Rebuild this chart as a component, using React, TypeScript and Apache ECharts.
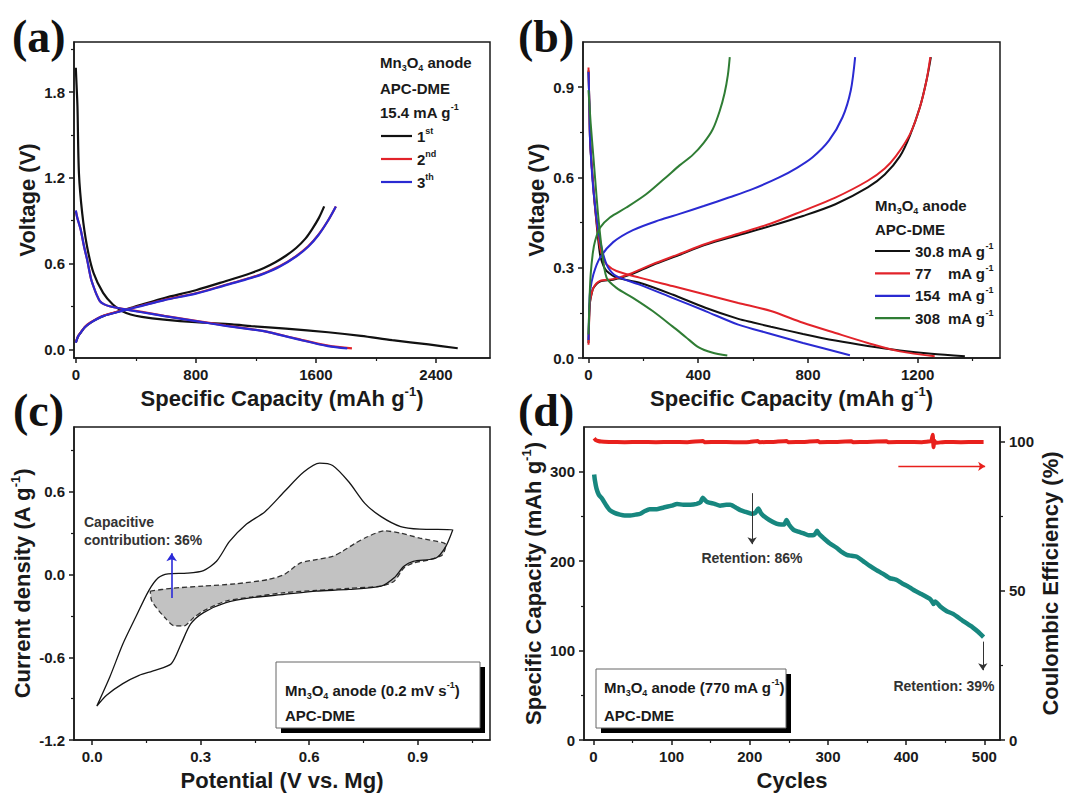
import React, { useEffect, useRef } from 'react';
import * as echarts from 'echarts';

// ---------------- Panel (a): Mn3O4, APC-DME, 15.4 mA g-1 ----------------
const a1Discharge = [[0, 1.97], [5, 1.85], [11, 1.7], [21, 1.23], [43, 0.95], [75, 0.72], [118, 0.535], [182, 0.395], [247, 0.314], [311, 0.267], [365, 0.244], [440, 0.228], [590, 0.209], [800, 0.19], [1041, 0.175], [1169, 0.163], [1400, 0.145], [1681, 0.12], [1900, 0.095], [2108, 0.065], [2350, 0.035], [2545, 0.008]];
const a1Charge = [[0, 0.047], [15, 0.09], [32, 0.116], [60, 0.155], [97, 0.186], [140, 0.212], [182, 0.233], [250, 0.255], [311, 0.274], [380, 0.295], [440, 0.314], [590, 0.36], [800, 0.414], [997, 0.477], [1169, 0.535], [1254, 0.57], [1330, 0.61], [1400, 0.655], [1468, 0.709], [1530, 0.775], [1574, 0.84], [1620, 0.92], [1655, 1.0]];
const a2Discharge = [[0, 0.97], [10, 0.92], [32, 0.84], [55, 0.72], [75, 0.63], [100, 0.5], [118, 0.44], [140, 0.38], [161, 0.337], [190, 0.315], [225, 0.302], [311, 0.284], [440, 0.262], [590, 0.235], [800, 0.2], [1000, 0.167], [1169, 0.142], [1254, 0.128], [1468, 0.076], [1681, 0.026], [1840, 0.007]];
const a2Charge = [[0, 0.05], [15, 0.092], [32, 0.118], [60, 0.157], [97, 0.188], [182, 0.235], [311, 0.272], [440, 0.307], [590, 0.347], [800, 0.393], [1000, 0.452], [1169, 0.503], [1254, 0.533], [1360, 0.583], [1468, 0.653], [1550, 0.723], [1617, 0.803], [1680, 0.9], [1733, 1.0]];
const a3Discharge = [[0, 0.972], [10, 0.92], [32, 0.84], [55, 0.72], [75, 0.63], [100, 0.5], [118, 0.44], [140, 0.38], [161, 0.337], [190, 0.315], [225, 0.302], [311, 0.284], [440, 0.26], [590, 0.233], [800, 0.198], [1000, 0.165], [1169, 0.14], [1254, 0.128], [1468, 0.074], [1681, 0.023], [1809, 0.007]];
const a3Charge = [[0, 0.047], [15, 0.09], [32, 0.116], [60, 0.155], [97, 0.186], [182, 0.233], [311, 0.27], [440, 0.305], [590, 0.345], [800, 0.39], [1000, 0.45], [1169, 0.5], [1254, 0.53], [1360, 0.58], [1468, 0.65], [1550, 0.72], [1617, 0.8], [1680, 0.9], [1733, 1.0]];
const aXTicks = [0, 800, 1600, 2400];
const aXMinor = [400, 1200, 2000];
const aYTicks = [0, 0.6, 1.2, 1.8];
const aYMinor = [0.3, 0.9, 1.5, 2.1];
const aLegendNames = ['1st', '2nd', '3th'];

// ---------------- Panel (b): rate capability ----------------
const b30Discharge = [[0, 0.955], [3, 0.85], [6, 0.72], [15, 0.6], [24, 0.5], [42, 0.344], [55, 0.305], [66, 0.289], [102, 0.267], [186, 0.25], [306, 0.211], [426, 0.167], [546, 0.13], [600, 0.118], [665, 0.104], [782, 0.08], [900, 0.058], [1018, 0.04], [1135, 0.025], [1250, 0.014], [1372, 0.006]];
const b30Charge = [[0, 0.05], [3, 0.15], [6, 0.189], [12, 0.215], [18, 0.233], [42, 0.254], [90, 0.26], [150, 0.276], [234, 0.309], [330, 0.342], [426, 0.376], [546, 0.408], [665, 0.439], [782, 0.472], [900, 0.511], [1018, 0.567], [1080, 0.61], [1135, 0.67], [1172, 0.74], [1208, 0.833], [1232, 0.922], [1248, 1.0]];
const b77Discharge = [[0, 0.965], [3, 0.85], [6, 0.72], [15, 0.6], [24, 0.5], [42, 0.367], [55, 0.33], [66, 0.311], [102, 0.289], [186, 0.267], [306, 0.239], [426, 0.211], [546, 0.183], [665, 0.156], [782, 0.117], [900, 0.083], [1018, 0.05], [1135, 0.022], [1262, 0.006]];
const b77Charge = [[0, 0.044], [3, 0.14], [6, 0.189], [18, 0.233], [42, 0.256], [90, 0.262], [150, 0.279], [234, 0.312], [330, 0.345], [426, 0.379], [546, 0.413], [665, 0.447], [782, 0.489], [900, 0.533], [1018, 0.589], [1080, 0.63], [1120, 0.67], [1172, 0.744], [1208, 0.833], [1232, 0.922], [1246, 1.0]];
const b154Discharge = [[0, 0.95], [3, 0.85], [6, 0.72], [18, 0.556], [36, 0.422], [54, 0.344], [72, 0.3], [102, 0.272], [186, 0.244], [306, 0.2], [426, 0.156], [546, 0.111], [665, 0.08], [782, 0.05], [953, 0.009]];
const b154Charge = [[0, 0.06], [3, 0.17], [6, 0.222], [18, 0.278], [42, 0.333], [90, 0.385], [162, 0.425], [258, 0.458], [332, 0.479], [420, 0.505], [514, 0.534], [600, 0.562], [695, 0.6], [760, 0.632], [817, 0.667], [877, 0.723], [926, 0.8], [956, 0.889], [972, 1.0]];
const b308Discharge = [[0, 0.89], [8, 0.78], [18, 0.667], [30, 0.53], [36, 0.467], [48, 0.367], [66, 0.267], [102, 0.233], [162, 0.2], [234, 0.156], [306, 0.105], [354, 0.07], [402, 0.035], [450, 0.018], [506, 0.008]];
const b308Charge = [[0, 0.078], [4, 0.2], [8, 0.278], [16, 0.35], [24, 0.389], [42, 0.433], [78, 0.467], [138, 0.5], [210, 0.544], [282, 0.6], [332, 0.64], [380, 0.675], [420, 0.715], [453, 0.76], [478, 0.82], [496, 0.88], [508, 0.94], [515, 1.0]];
const bXTicks = [0, 400, 800, 1200];
const bXMinor = [200, 600, 1000, 1400];
const bYTicks = [0, 0.3, 0.6, 0.9];
const bYMinor = [0.15, 0.45, 0.75];
const bLegendNames = ['30.8 mA g-1', '77 mA g-1', '154 mA g-1', '308 mA g-1'];

// ---------------- Panel (c): CV at 0.2 mV s-1 ----------------
const cvLoop = [[0.013, -0.954], [0.049, -0.743], [0.085, -0.504], [0.12, -0.312], [0.156, -0.12], [0.183, -0.024], [0.21, 0.005], [0.263, 0.01], [0.308, 0.029], [0.344, 0.096], [0.38, 0.24], [0.424, 0.36], [0.478, 0.456], [0.531, 0.6], [0.585, 0.743], [0.629, 0.808], [0.665, 0.791], [0.71, 0.671], [0.754, 0.516], [0.799, 0.42], [0.853, 0.348], [0.906, 0.329], [0.997, 0.324], [0.978, 0.204], [0.951, 0.12], [0.888, 0.096], [0.862, 0.06], [0.835, -0.024], [0.799, -0.084], [0.71, -0.108], [0.62, -0.12], [0.531, -0.144], [0.442, -0.168], [0.37, -0.204], [0.308, -0.276], [0.272, -0.36], [0.246, -0.504], [0.219, -0.647], [0.174, -0.695], [0.13, -0.731], [0.085, -0.791], [0.04, -0.875], [0.013, -0.954]];
const capUpper = [[0.161, -0.12], [0.219, -0.1], [0.308, -0.084], [0.397, -0.067], [0.487, -0.036], [0.531, 0], [0.576, 0.084], [0.62, 0.108], [0.665, 0.132], [0.692, 0.168], [0.728, 0.228], [0.763, 0.276], [0.808, 0.317], [0.853, 0.3], [0.906, 0.264], [0.978, 0.216]];
const capLower = [[0.969, 0.144], [0.933, 0.108], [0.888, 0.084], [0.862, 0.048], [0.835, -0.048], [0.799, -0.084], [0.71, -0.1], [0.62, -0.115], [0.531, -0.132], [0.442, -0.163], [0.37, -0.192], [0.308, -0.264], [0.281, -0.312], [0.254, -0.372], [0.228, -0.372], [0.201, -0.312], [0.165, -0.192], [0.161, -0.12]];
const capArrow = [[0.22, -0.17], [0.22, 0.155]];
const cXTicks = [0, 0.3, 0.6, 0.9];
const cXMinor = [0.15, 0.45, 0.75, 1.05];
const cYTicks = [-1.2, -0.6, 0, 0.6];
const cYMinor = [-0.9, -0.3, 0.3, 0.9];

// ---------------- Panel (d): cycling at 770 mA g-1 ----------------
const dCapacity = [[1, 297], [2, 290], [4, 281], [7, 274], [11, 270], [16, 263], [21, 257], [27, 254], [34, 252], [40, 251], [47, 251], [54, 252], [60, 253], [66, 256], [72, 258], [80, 258], [90, 260], [100, 262], [107, 264], [115, 263], [124, 263], [132, 264], [137, 266], [140, 271], [143, 268], [146, 266], [155, 264], [162, 262], [170, 263], [175, 263], [182, 260], [188, 257], [195, 255], [202, 253], [207, 254], [211, 259], [214, 254], [217, 251], [225, 246], [234, 242], [240, 241], [244, 241], [247, 246], [250, 241], [256, 235], [262, 233], [269, 231], [275, 229], [281, 229], [284, 231], [286, 234], [289, 230], [294, 226], [302, 220], [311, 215], [318, 210], [324, 207], [330, 206], [337, 205], [345, 200], [353, 195], [362, 190], [370, 186], [379, 181], [384, 180], [388, 179], [395, 175], [402, 172], [409, 168], [420, 163], [430, 158], [433, 155], [435, 152], [437, 155], [444, 149], [452, 144], [460, 141], [473, 133], [485, 126], [492, 121], [499, 115]];
const dEfficiency = [[1, 101.2], [3, 100.6], [6, 100.3], [10, 100.1], [20, 100], [40, 99.9], [60, 100], [80, 99.9], [100, 100], [120, 99.9], [140, 100.3], [142, 99.9], [160, 100], [180, 99.9], [200, 100], [210, 100.3], [212, 99.9], [230, 100], [247, 100.3], [249, 99.9], [270, 100], [287, 100.3], [289, 99.9], [310, 100], [330, 100.2], [332, 99.9], [350, 100], [375, 100.2], [377, 99.9], [400, 100], [420, 99.9], [432, 100.3], [434, 102.4], [435, 98.2], [436, 100.4], [438, 99.7], [450, 100], [470, 99.9], [490, 100], [499, 100]];
const ret86Arrow = [[203, 276], [203, 219]];
const ret39Arrow = [[498, 110], [498, 78]];
const ceArrow = [[390, 91.8], [501, 91.8]];
const dXTicks = [0, 100, 200, 300, 400, 500];
const dXMinor = [50, 150, 250, 350, 450];
const dYTicks = [0, 100, 200, 300];
const dYMinor = [50, 150, 250];
const dY2Ticks = [0, 50, 100];
const dY2Minor = [25, 75];

// ---------------- styling ----------------
const FONT = '"Liberation Sans", Arial, Helvetica, sans-serif';
const SERIF = '"Liberation Serif", "Times New Roman", serif';
const TXT = '#1a1a1a';
const BLACK = '#111111';
const RED = '#e2232a';
const BLUE = '#2a2ad2';
const GREEN = '#2f7d34';
const TEAL = '#17877f';
const CERED = '#e8201c';

const supSub = (size: number) => ({
  sub: { fontFamily: FONT, fontWeight: 'bold', fontSize: Math.round(size * 0.6), color: TXT, fill: TXT, verticalAlign: 'bottom', lineHeight: Math.round(size * 0.6) },
  sup: { fontFamily: FONT, fontWeight: 'bold', fontSize: Math.round(size * 0.6), color: TXT, fill: TXT, verticalAlign: 'top', lineHeight: Math.round(size * 0.6) },
  n: { fontFamily: FONT, fontWeight: 'bold', fontSize: size, color: TXT, fill: TXT, width: 33 },
});

const NAME_STYLE = { fontFamily: FONT, fontSize: 22, fontWeight: 'bold', color: TXT, lineHeight: 26, rich: supSub(22) };

const fix1 = (v: number) => (Math.abs(v) < 1e-9 ? '0.0' : v.toFixed(1));
const int = (v: number) => String(Math.round(v));

function major(dim: string, gridIndex: number, min: number, max: number, ticks: number[], fmt: any, name: string, nameGap: number, position: string) {
  const a: any = {
    type: 'value', gridIndex, min, max, position,
    axisLine: { show: true, onZero: false, lineStyle: { color: TXT, width: 1.5 } },
    axisTick: { show: true, inside: false, length: 5, customValues: ticks, lineStyle: { color: TXT, width: 1.5 } },
    axisLabel: { show: true, customValues: ticks, formatter: fmt, margin: 9, fontFamily: FONT, fontSize: 15, fontWeight: 'bold', color: TXT },
    splitLine: { show: false },
    minorTick: { show: false },
    name, nameLocation: 'middle', nameGap, nameTextStyle: NAME_STYLE,
  };
  if (dim === 'y') a.nameRotate = 90;
  return a;
}
function minor(gridIndex: number, min: number, max: number, ticks: number[], position: string) {
  return {
    type: 'value', gridIndex, min, max, position,
    axisLine: { show: false, onZero: false },
    axisTick: { show: true, inside: false, length: 3, customValues: ticks, lineStyle: { color: TXT, width: 1.2 } },
    axisLabel: { show: false },
    splitLine: { show: false },
  };
}

const line = (name: string, data: number[][], color: string, width: number, xi: number, yi: number, extra: any = {}) => ({
  name, type: 'line', data, xAxisIndex: xi, yAxisIndex: yi, symbol: 'none', showSymbol: false, smooth: 0.3,
  lineStyle: { color, width }, itemStyle: { color }, emphasis: { disabled: true }, silent: true, ...extra,
});

const arrowMark = (pairs: number[][][], color: string, width: number, size: number) => ({
  silent: true, symbol: ['none', 'arrow'], symbolSize: size, label: { show: false },
  lineStyle: { color, width, type: 'solid' }, emphasis: { disabled: true },
  data: pairs.map((p) => [{ coord: p[0] }, { coord: p[1] }]),
});

const txt = (x: number, y: number, text: string, size: number, extra: any = {}) => ({
  type: 'text', x, y, silent: true,
  style: { text, fontFamily: FONT, fontWeight: 'bold', fontSize: size, fill: TXT, verticalAlign: 'middle', align: 'left', lineHeight: 20, rich: supSub(size), ...extra },
});
const panelLabel = (x: number, y: number, t: string) => ({
  type: 'text', x, y, silent: true,
  style: { text: t, fontFamily: SERIF, fontWeight: 'bold', fontSize: 46, fill: '#111', verticalAlign: 'middle', align: 'left' },
});

function buildOption() {
  const capLoop = capUpper.concat(capLower);
  const gridBase = { show: true, borderColor: TXT, borderWidth: 1.5, backgroundColor: 'transparent' };
  const legendText = { fontFamily: FONT, fontSize: 15, fontWeight: 'bold', color: TXT, lineHeight: 20, rich: supSub(15) };
  return {
    animation: false,
    backgroundColor: '#ffffff',
    textStyle: { fontFamily: FONT },
    grid: [
      { ...gridBase, left: 74, top: 42, width: 416, height: 316 },
      { ...gridBase, left: 583, top: 42, width: 417, height: 316 },
      { ...gridBase, left: 74, top: 427, width: 416, height: 316 },
      { ...gridBase, left: 584, top: 427, width: 416, height: 316 },
    ],
    xAxis: [
      major('x', 0, -12, 2760, aXTicks, int, 'Specific Capacity (mAh g{sup|-1})', 27, 'bottom'),
      major('x', 1, -20, 1500, bXTicks, int, 'Specific Capacity (mAh g{sup|-1})', 27, 'bottom'),
      major('x', 2, -0.05, 1.1, cXTicks, fix1, 'Potential (V vs. Mg)', 27, 'bottom'),
      major('x', 3, -12, 520, dXTicks, int, 'Cycles', 27, 'bottom'),
      minor(0, -12, 2760, aXMinor, 'bottom'),
      minor(1, -20, 1500, bXMinor, 'bottom'),
      minor(2, -0.05, 1.1, cXMinor, 'bottom'),
      minor(3, -12, 520, dXMinor, 'bottom'),
    ],
    yAxis: [
      major('y', 0, -0.06, 2.15, aYTicks, fix1, 'Voltage (V)', 31, 'left'),
      major('y', 1, 0, 1.05, bYTicks, fix1, 'Voltage (V)', 31, 'left'),
      major('y', 2, -1.2, 1.07, cYTicks, fix1, 'Current density (A g{sup|-1})', 31, 'left'),
      major('y', 3, 0, 350, dYTicks, int, 'Specific Capacity (mAh g{sup|-1})', 33, 'left'),
      major('y', 3, 0, 105, dY2Ticks, int, 'Coulombic Efficiency (%)', 28, 'right'),
      minor(0, -0.06, 2.15, aYMinor, 'left'),
      minor(1, 0, 1.05, bYMinor, 'left'),
      minor(2, -1.2, 1.07, cYMinor, 'left'),
      minor(3, 0, 350, dYMinor, 'left'),
      minor(3, 0, 105, dY2Minor, 'right'),
    ],
    legend: [
      {
        data: aLegendNames, orient: 'vertical', left: 381, top: 126, padding: 0, itemGap: 3,
        icon: 'rect', itemWidth: 31, itemHeight: 2.2, selectedMode: false,
        formatter: (n: string) => `${n.slice(0, 1)}{sup|${n.slice(1)}}`,
        textStyle: legendText,
      },
      {
        data: bLegendNames, orient: 'vertical', left: 875, top: 241, padding: 0, itemGap: 2.4,
        icon: 'rect', itemWidth: 35, itemHeight: 2.2, selectedMode: false,
        formatter: (n: string) => `{n|${n.split(' ')[0]}}mA g{sup|-1}`,
        textStyle: legendText,
      },
    ],
    series: [
      // (a)
      line('1st', a1Discharge, BLACK, 2.2, 0, 0),
      line('1st', a1Charge, BLACK, 2.2, 0, 0),
      line('2nd', a2Discharge, RED, 2.2, 0, 0),
      line('2nd', a2Charge, RED, 2.2, 0, 0),
      line('3th', a3Discharge, BLUE, 2.2, 0, 0),
      line('3th', a3Charge, BLUE, 2.2, 0, 0),
      // (b)
      line(bLegendNames[0], b30Discharge, BLACK, 2, 1, 1),
      line(bLegendNames[0], b30Charge, BLACK, 2, 1, 1),
      line(bLegendNames[1], b77Discharge, RED, 2, 1, 1),
      line(bLegendNames[1], b77Charge, RED, 2, 1, 1),
      line(bLegendNames[2], b154Discharge, BLUE, 2, 1, 1),
      line(bLegendNames[2], b154Charge, BLUE, 2, 1, 1),
      line(bLegendNames[3], b308Discharge, GREEN, 2, 1, 1),
      line(bLegendNames[3], b308Charge, GREEN, 2, 1, 1),
      // (c)
      {
        name: 'capacitive fill', type: 'custom', coordinateSystem: 'cartesian2d', xAxisIndex: 2, yAxisIndex: 2,
        data: [capLoop[0]], silent: true, z: 1,
        renderItem: (_p: any, api: any) => ({
          type: 'polygon',
          shape: { points: capLoop.map((p) => api.coord(p)), smooth: 0.25 },
          style: { fill: '#c2c2c2', stroke: 'none' },
        }),
      },
      line('capacitive', capLoop, '#333333', 1.3, 2, 2, { smooth: 0.25, lineStyle: { color: '#333333', width: 1.3, type: [5, 3] } }),
      line('CV', cvLoop, '#151515', 1.3, 2, 2, { smooth: 0.25, markLine: arrowMark([capArrow], '#2a2ad8', 1.6, 8) }),
      // (d)
      line('Specific capacity', dCapacity, TEAL, 4.5, 3, 3, { smooth: 0.2, markLine: arrowMark([ret86Arrow, ret39Arrow], '#333333', 1, 7) }),
      line('Coulombic efficiency', dEfficiency, CERED, 4, 3, 4, { smooth: 0.1, markLine: arrowMark([ceArrow], CERED, 1.4, 7) }),
    ],
    graphic: [
      panelLabel(12, 36, '(a)'),
      panelLabel(518, 36, '(b)'),
      panelLabel(13, 410, '(c)'),
      panelLabel(518, 410, '(d)'),
      // legend headers (a)
      txt(380, 62, 'Mn{sub|3}O{sub|4} anode', 15),
      txt(380, 88, 'APC-DME', 15),
      txt(380, 112, '15.4 mA g{sup|-1}', 15),
      // legend headers (b)
      txt(875, 205, 'Mn{sub|3}O{sub|4} anode', 15),
      txt(875, 229, 'APC-DME', 15),
      // (c) annotation
      txt(84, 522, 'Capacitive', 14, { fill: '#333' }),
      txt(84, 540, 'contribution: 36%', 14, { fill: '#333' }),
      // (c) inset box
      { type: 'rect', silent: true, shape: { x: 281, y: 667, width: 204, height: 66 }, style: { fill: '#000' } },
      { type: 'rect', silent: true, shape: { x: 276, y: 662, width: 204, height: 66 }, style: { fill: '#fff', stroke: '#666', lineWidth: 1 } },
      txt(285, 690, 'Mn{sub|3}O{sub|4} anode (0.2 mV s{sup|-1})', 15),
      txt(285, 715, 'APC-DME', 15),
      // (d) annotations
      txt(752, 558, 'Retention: 86%', 14, { fill: '#333', align: 'center' }),
      txt(944, 686, 'Retention: 39%', 14, { fill: '#333', align: 'center' }),
      // (d) inset box
      { type: 'rect', silent: true, shape: { x: 601, y: 674, width: 190, height: 59 }, style: { fill: '#000' } },
      { type: 'rect', silent: true, shape: { x: 596, y: 669, width: 190, height: 59 }, style: { fill: '#fff', stroke: '#666', lineWidth: 1 } },
      txt(604, 687, 'Mn{sub|3}O{sub|4} anode (770 mA g{sup|-1})', 15),
      txt(604, 715, 'APC-DME', 15),
    ],
  };
}

export default function App() {
  const ref = useRef<HTMLDivElement>(null);
  useEffect(() => {
    if (!ref.current) return;
    const chart = echarts.init(ref.current, null, { renderer: 'svg' });
    chart.setOption(buildOption() as any);
    return () => chart.dispose();
  }, []);
  return <div ref={ref} style={{ position: 'fixed', left: 0, top: 0, width: 1072, height: 794, background: '#fff' }} />;
}
